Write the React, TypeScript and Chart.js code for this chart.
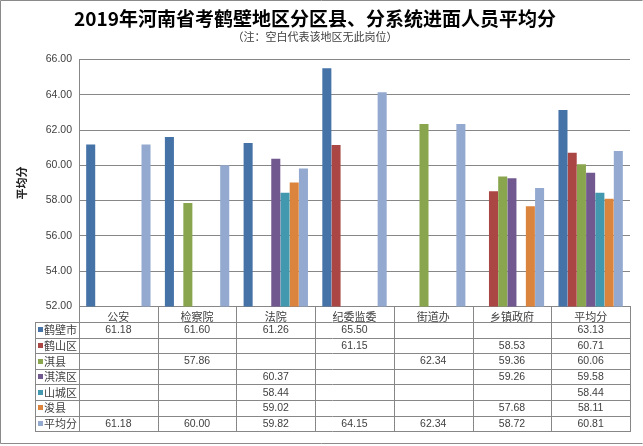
import React, { useEffect, useRef } from "react";
import { Chart, registerables } from "chart.js";

Chart.register(...registerables);

// ---------- data ----------
const categories = ["公安", "检察院", "法院", "纪委监委", "街道办", "乡镇政府", "平均分"];
const seriesNames = ["鹤壁市", "鹤山区", "淇县", "淇滨区", "山城区", "浚县", "平均分"];
const hebiShi = [61.18, 61.6, 61.26, 65.5, null, null, 63.13];
const heshanQu = [null, null, null, 61.15, null, 58.53, 60.71];
const qiXian = [null, 57.86, null, null, 62.34, 59.36, 60.06];
const qibinQu = [null, null, 60.37, null, null, 59.26, 59.58];
const shanchengQu = [null, null, 58.44, null, null, null, 58.44];
const xunXian = [null, null, 59.02, null, null, 57.68, 58.11];
const pingjunFen = [61.18, 60.0, 59.82, 64.15, 62.34, 58.72, 60.81];
const seriesValues = [hebiShi, heshanQu, qiXian, qibinQu, shanchengQu, xunXian, pingjunFen];
const seriesColors = ["#4572A7", "#AA4643", "#89A54E", "#71588F", "#4198AF", "#DB843D", "#93A9CF"];
const yMin = 52;
const yMax = 66;
const yStep = 2;
const titleText = "2019年河南省考鹤壁地区分区县、分系统进面人员平均分";
const subtitleText = "（注：空白代表该地区无此岗位）";
const yAxisTitle = "平均分";

// ---------- style ----------
const GRID = "#878787";
const TEXT = "#404040";
const CJK = "'Noto Sans CJK SC', sans-serif";
const NUM = "'Liberation Sans', 'Noto Sans CJK SC', sans-serif";
const ROW_H = 15.6;
const LEGEND_COL = 44;

const tablePlugin = {
  id: "dataTable",
  beforeDraw(chart: any) {
    const { ctx, width, height } = chart;
    ctx.save();
    ctx.fillStyle = "#ffffff";
    ctx.fillRect(0, 0, width, height);
    ctx.restore();
  },
  afterDraw(chart: any) {
    const { ctx, chartArea, height } = chart;
    const xs = chart.scales.x;
    const top = chartArea.bottom;
    const left = chartArea.left;
    const right = chartArea.right;
    const n = categories.length;
    const colW = (right - left) / n;
    const rows = chart.data.datasets.length;
    const bottom = top + ROW_H * (rows + 1);
    const tLeft = left - LEGEND_COL;

    ctx.save();
    ctx.strokeStyle = GRID;
    ctx.lineWidth = 1;
    ctx.beginPath();
    for (let r = 1; r <= rows + 1; r++) {
      const y = Math.round(top + r * ROW_H) + 0.5;
      ctx.moveTo(tLeft, y);
      ctx.lineTo(right, y);
    }
    for (let c = 0; c <= n; c++) {
      const xx = Math.round(left + c * colW) + 0.5;
      ctx.moveTo(xx, Math.round(top));
      ctx.lineTo(xx, Math.round(bottom) + 1);
    }
    const lx = Math.round(tLeft) + 0.5;
    ctx.moveTo(lx, Math.round(top + ROW_H));
    ctx.lineTo(lx, Math.round(bottom) + 1);
    ctx.stroke();

    ctx.textBaseline = "middle";
    chart.data.datasets.forEach((ds: any, r: number) => {
      const yc = top + (r + 1.5) * ROW_H + 0.5;
      // legend key
      ctx.fillStyle = ds.backgroundColor;
      ctx.fillRect(Math.round(tLeft) + 3, Math.round(yc) - 3, 5, 5);
      ctx.fillStyle = TEXT;
      ctx.font = `11px ${CJK}`;
      ctx.textAlign = "left";
      ctx.fillText(ds.label, tLeft + 9, yc);
      // values
      ctx.font = `10.5px ${NUM}`;
      ctx.textAlign = "center";
      ds.data.forEach((v: number | null, c: number) => {
        if (v === null || v === undefined) return;
        ctx.fillText(v.toFixed(2), xs.getPixelForValue(c), yc);
      });
    });

    // outer frame
    ctx.strokeStyle = "#8a8a8a";
    ctx.beginPath();
    ctx.moveTo(chart.width - 0.5, 0.5);
    ctx.lineTo(0.5, 0.5);
    ctx.lineTo(0.5, height - 2.5);
    ctx.lineTo(chart.width - 0.5, height - 2.5);
    ctx.stroke();
    ctx.restore();
  },
};

export default function App() {
  const canvasRef = useRef<HTMLCanvasElement | null>(null);

  useEffect(() => {
    const canvas = canvasRef.current;
    if (!canvas) return;
    const chart = new Chart(canvas, {
      type: "bar",
      data: {
        labels: categories,
        datasets: seriesNames.map((name, i) => ({
          label: name,
          data: seriesValues[i],
          backgroundColor: seriesColors[i],
          borderWidth: 0,
          categoryPercentage: 0.82,
          barPercentage: 0.98,
        })),
      },
      options: {
        responsive: false,
        animation: false,
        devicePixelRatio: 1,
        layout: { padding: { left: 0, right: 13, top: 0, bottom: 124 } },
        plugins: {
          legend: { display: false },
          tooltip: { enabled: false },
          title: {
            display: true,
            text: titleText,
            color: "#000000",
            font: { size: 19, weight: "bold", family: CJK },
            padding: { top: 7, bottom: 0 },
          },
          subtitle: {
            display: true,
            text: subtitleText,
            color: TEXT,
            font: { size: 11, family: CJK },
            padding: { top: 0, bottom: 16.5 },
          },
        },
        scales: {
          x: {
            grid: { display: false },
            border: { display: false },
            ticks: { color: TEXT, font: { size: 11, family: CJK }, padding: -4, maxRotation: 0 },
            afterFit: (scale: any) => {
              scale.height = ROW_H;
            },
          },
          y: {
            min: yMin,
            max: yMax,
            grid: { color: GRID, drawTicks: false, lineWidth: 1 },
            border: { display: true, color: GRID },
            ticks: {
              stepSize: yStep,
              padding: 7,
              color: TEXT,
              font: { size: 10.5, family: NUM },
              callback: (v: any) => Number(v).toFixed(2),
            },
            title: {
              display: true,
              text: yAxisTitle,
              color: "#222222",
              font: { size: 11, weight: "bold", family: CJK },
              padding: { top: 15, bottom: 0 },
            },
            afterFit: (scale: any) => {
              scale.width = 79;
            },
          },
        },
      },
      plugins: [tablePlugin],
    });
    return () => chart.destroy();
  }, []);

  return (
    <div style={{ position: "absolute", left: 0, top: 0, width: 643, height: 446, background: "#fff" }}>
      <canvas ref={canvasRef} width={643} height={446} style={{ display: "block" }} />
    </div>
  );
}
